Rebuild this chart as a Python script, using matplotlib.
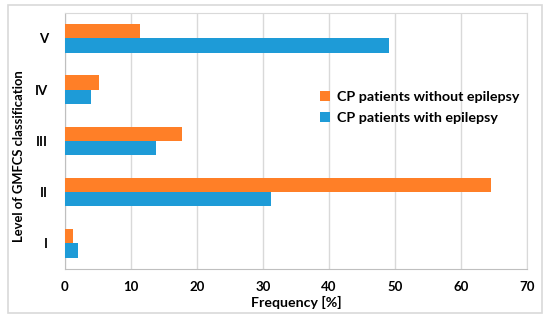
import matplotlib.pyplot as plt
import numpy as np
from matplotlib.patches import Rectangle

### Data
levels = ["I", "II", "III", "IV", "V"]
without_epilepsy = [1.3, 64.6, 17.8, 5.1, 11.4]
with_epilepsy = [2.0, 31.3, 13.8, 3.9, 49.1]

orange = "#FF7F27"
blue = "#1E9BD7"

plt.rcParams["font.family"] = ["Lato", "DejaVu Sans"]
plt.rcParams["font.weight"] = "bold"

fig = plt.figure(figsize=(5.5, 3.22), dpi=100)
ax = fig.add_axes([0.118, 0.165, 0.84, 0.795])

y = np.arange(len(levels))
h = 0.28
ax.barh(y + h / 2, without_epilepsy, height=h, color=orange,
        label="CP patients without epilepsy", zorder=3)
ax.barh(y - h / 2, with_epilepsy, height=h, color=blue,
        label="CP patients with epilepsy", zorder=3)

ax.set_xlim(0, 70)
ax.set_ylim(-0.5, 4.5)
ax.set_xticks(range(0, 71, 10))
ax.set_yticks(y)
ax.set_yticklabels(levels)
ax.tick_params(length=0, labelsize=9.5)
ax.tick_params(axis="x", pad=9)
ax.tick_params(axis="y", pad=12)
for lab in ax.get_xticklabels() + ax.get_yticklabels():
    lab.set_fontweight("bold")
ax.grid(axis="x", color="#D9D9D9", linewidth=1, zorder=0)
for s in ax.spines.values():
    s.set_color("#D9D9D9")
ax.spines["left"].set_color("#BFBFBF")
ax.spines["bottom"].set_color("#BFBFBF")

ax.set_xlabel("Frequency [%]", fontsize=10.2, fontweight="bold", labelpad=2)
ax.set_ylabel("Level of GMFCS classification", fontsize=9.4,
              fontweight="bold")
ax.yaxis.set_label_coords(-0.087, 0.44)

ax.legend(loc="center left", bbox_to_anchor=(0.525, 0.63), frameon=False,
          handlelength=0.7, handleheight=0.7,
          handletextpad=0.45, labelspacing=0.6,
          prop={"weight": "bold", "size": 10.3})

# light outer frame around the whole figure
fig.patches.append(Rectangle((0.0145, 0.028), 0.971, 0.957,
                             transform=fig.transFigure, fill=False,
                             edgecolor="#D9D9D9", linewidth=1.2))

fig.savefig("out.png", dpi=100)
